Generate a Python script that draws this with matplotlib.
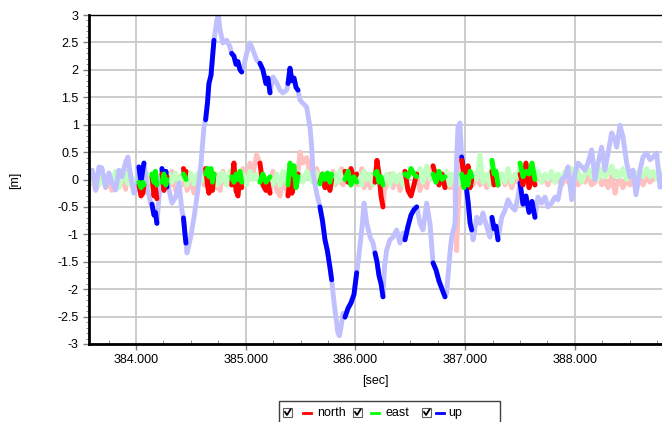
import numpy as np
import matplotlib
matplotlib.use("Agg")
import matplotlib.pyplot as plt
from matplotlib.patches import Rectangle
from matplotlib.lines import Line2D
from matplotlib.ticker import MultipleLocator, FormatStrFormatter

plt.rcParams['font.family'] = ['Liberation Sans', 'DejaVu Sans']

# sample times [sec]
t = [383.572, 383.602, 383.633, 383.663, 383.690, 383.724, 383.754, 383.781, 383.815, 383.845,
     383.872, 383.906, 383.927, 383.952, 383.982, 384.009, 384.027, 384.046, 384.064, 384.073,
     384.100, 384.134, 384.146, 384.164, 384.178, 384.191, 384.210, 384.237, 384.255, 384.273,
     384.283, 384.301, 384.328, 384.362, 384.392, 384.419, 384.433, 384.447, 384.456, 384.465,
     384.499, 384.529, 384.556, 384.590, 384.620, 384.635, 384.652, 384.665, 384.684, 384.697,
     384.711, 384.738, 384.750, 384.766, 384.793, 384.827, 384.857, 384.872, 384.893, 384.912,
     384.930, 384.948, 384.964, 384.975, 385.009, 385.039, 385.067, 385.100, 385.130, 385.157,
     385.185, 385.203, 385.222, 385.249, 385.283, 385.313, 385.340, 385.374, 385.386, 385.404,
     385.422, 385.441, 385.459, 385.477, 385.495, 385.522, 385.556, 385.586, 385.602, 385.613,
     385.647, 385.677, 385.700, 385.723, 385.745, 385.768, 385.784, 385.796, 385.814, 385.841,
     385.855, 385.875, 385.887, 385.905, 385.933, 385.960, 385.987, 386.012, 386.024, 386.058,
     386.079, 386.104, 386.134, 386.161, 386.179, 386.197, 386.215, 386.234, 386.252, 386.265,
     386.285, 386.315, 386.343, 386.376, 386.407, 386.434, 386.452, 386.480, 386.507, 386.534,
     386.559, 386.589, 386.616, 386.650, 386.680, 386.708, 386.735, 386.762, 386.790, 386.817,
     386.832, 386.862, 386.878, 386.908, 386.923, 386.935, 386.953, 386.969, 386.990, 387.009,
     387.027, 387.046, 387.061, 387.073, 387.106, 387.136, 387.163, 387.197, 387.227, 387.245,
     387.264, 387.282, 387.300, 387.334, 387.364, 387.391, 387.425, 387.455, 387.482, 387.501,
     387.528, 387.555, 387.583, 387.610, 387.637, 387.664, 387.698, 387.728, 387.756, 387.789,
     387.820, 387.847, 387.881, 387.911, 387.938, 387.972, 388.002, 388.029, 388.063, 388.093,
     388.120, 388.154, 388.184, 388.212, 388.245, 388.275, 388.303, 388.336, 388.367, 388.382,
     388.412, 388.439, 388.473, 388.503, 388.531, 388.558, 388.594, 388.622, 388.655, 388.686,
     388.713, 388.747, 388.777, 388.805]

north = [-0.10, 0.05, -0.20, -0.05, 0.10, -0.15, 0.00, -0.20, 0.12, -0.10,
         0.05, -0.18, 0.15, -0.05, -0.20, 0.00, -0.10, -0.30, -0.25, -0.10,
         0.10, -0.10, 0.05, -0.30, -0.15, -0.35, 0.00, 0.10, -0.20, -0.05,
         0.05, -0.15, 0.15, -0.20, 0.05, -0.10, 0.20, 0.05, 0.15, -0.20,
         0.00, -0.25, -0.05, 0.20, -0.10, 0.20, -0.10, -0.25, 0.00, -0.20,
         0.10, -0.15, 0.05, -0.20, 0.15, -0.10, 0.00, -0.10, 0.30, -0.20,
         -0.30, 0.05, -0.15, 0.20, -0.05, 0.30, 0.10, 0.45, 0.30, -0.10,
         -0.20, -0.05, -0.25, 0.15, -0.20, -0.30, 0.00, -0.20, -0.30, 0.05,
         -0.25, -0.10, 0.00, 0.10, 0.50, 0.30, 0.40, 0.10, 0.35, 0.00,
         0.20, -0.05, 0.10, -0.15, 0.05, -0.20, 0.00, 0.15, -0.10, 0.10,
         -0.05, 0.20, -0.10, 0.15, -0.05, 0.20, 0.00, 0.10, -0.10, 0.20,
         -0.15, 0.10, -0.15, 0.05, -0.05, 0.35, 0.10, -0.30, -0.50, -0.20,
         -0.10, 0.10, -0.15, 0.05, -0.20, 0.00, 0.15, -0.20, -0.30, -0.10,
         0.10, -0.20, 0.00, -0.15, 0.15, 0.25, 0.05, -0.10, 0.10, -0.15,
         0.00, -0.15, 0.05, -0.20, -1.30, -0.60, 0.00, 0.35, 0.10, -0.10,
         0.25, -0.15, 0.00, -0.10, 0.10, -0.10, 0.05, -0.15, 0.10, 0.15,
         -0.10, 0.05, -0.10, 0.10, -0.10, 0.10, -0.15, 0.05, -0.05, 0.10,
         -0.10, 0.30, -0.15, 0.05, -0.10, 0.10, -0.05, 0.05, -0.10, 0.10,
         -0.05, 0.05, -0.10, 0.05, -0.05, 0.00, 0.10, -0.10, 0.05, -0.05,
         0.05, -0.10, -0.05, 0.10, -0.10, 0.00, -0.15, 0.05, -0.25, -0.10,
         0.00, -0.15, 0.00, -0.10, 0.05, -0.15, 0.00, -0.10, 0.05, -0.05,
         0.00, 0.05, -0.05, 0.00]

east = [0.10, -0.05, 0.08, -0.10, 0.05, -0.12, 0.10, -0.05, 0.15, -0.15,
        0.00, 0.12, -0.08, 0.10, -0.10, 0.05, -0.05, -0.15, -0.05, -0.10,
        0.10, -0.05, 0.10, -0.05, 0.15, -0.10, 0.05, -0.05, 0.10, -0.10,
        0.00, 0.10, -0.05, 0.12, -0.10, 0.05, 0.10, 0.05, 0.00, -0.10,
        0.12, -0.08, 0.10, -0.05, 0.05, 0.10, 0.20, 0.05, 0.20, -0.05,
        0.10, -0.10, 0.10, -0.05, 0.12, -0.10, 0.15, 0.05, -0.05, 0.10,
        0.00, 0.15, -0.05, 0.10, -0.10, 0.15, 0.00, 0.10, -0.05, 0.10,
        -0.05, 0.00, 0.05, -0.10, 0.10, -0.10, 0.15, -0.05, -0.10, 0.30,
        0.10, 0.25, -0.15, 0.05, 0.10, -0.05, 0.15, 0.00, 0.10, -0.05,
        0.12, -0.08, 0.10, 0.00, 0.12, -0.05, 0.10, -0.10, 0.10, -0.05,
        0.15, 0.00, 0.10, 0.00, 0.15, -0.10, 0.05, -0.05, 0.10, -0.10,
        0.15, 0.00, 0.10, -0.10, 0.10, 0.15, -0.05, 0.05, -0.10, 0.00,
        0.10, -0.10, 0.12, -0.05, 0.10, -0.10, 0.10, 0.05, 0.20, 0.10,
        0.05, 0.20, -0.05, 0.25, 0.00, 0.10, -0.05, 0.15, 0.00, 0.05,
        0.15, -0.10, 0.10, 0.00, -0.10, 0.10, -0.05, 0.10, -0.15, 0.05,
        -0.10, 0.15, 0.05, 0.10, 0.00, 0.45, -0.05, 0.10, -0.10, 0.35,
        0.10, 0.15, -0.10, 0.10, -0.05, 0.20, -0.05, 0.10, 0.05, 0.30,
        0.05, 0.15, 0.10, 0.30, 0.00, 0.15, -0.05, 0.10, 0.00, 0.15,
        -0.05, 0.10, 0.00, 0.15, 0.05, 0.20, 0.00, 0.15, -0.05, 0.10,
        0.20, 0.05, 0.15, 0.00, 0.20, 0.05, 0.10, 0.25, 0.05, 0.15,
        0.05, 0.20, 0.00, 0.15, 0.05, 0.10, 0.15, 0.05, 0.20, 0.05,
        0.15, 0.00, 0.15, 0.10]

up = [0.00, 0.17, -0.19, 0.23, 0.21, -0.14, 0.12, -0.06, -0.19, 0.17,
      0.05, 0.32, 0.41, 0.05, -0.25, -0.14, 0.23, -0.06, 0.20, 0.30,
      -0.14, -0.43, -0.45, -0.65, -0.60, -0.80, -0.32, 0.20, -0.10, 0.15,
      -0.14, -0.19, -0.43, -0.32, -0.06, -0.56, -0.70, -1.00, -1.16, -1.34,
      -1.05, -0.69, -0.32, 0.23, 0.96, 1.09, 1.40, 1.75, 1.90, 2.20,
      2.54, 2.91, 3.00, 2.73, 2.49, 2.54, 2.42, 2.30, 2.25, 2.10,
      2.15, 2.00, 1.96, 2.00, 2.30, 2.49, 2.36, 2.18, 2.12, 2.00,
      1.75, 1.85, 1.58, 1.87, 1.76, 1.63, 1.58, 1.63, 1.75, 2.03,
      1.80, 1.85, 1.68, 1.63, 1.45, 1.39, 1.32, 0.96, 0.59, 0.12,
      -0.25, -0.50, -0.75, -1.10, -1.30, -1.60, -1.83, -2.07, -2.38, -2.80,
      -2.85, -2.62, -2.44, -2.51, -2.35, -2.25, -2.10, -1.70, -1.52, -0.92,
      -0.43, -0.80, -1.05, -1.16, -1.34, -1.50, -1.75, -1.90, -2.14, -1.60,
      -1.29, -1.10, -1.05, -0.92, -1.16, -0.98, -1.10, -0.85, -0.65, -0.55,
      -0.50, -0.80, -0.92, -0.43, -0.80, -1.52, -1.65, -1.85, -2.00, -2.14,
      -2.07, -1.34, -1.05, -0.80, 0.36, 0.96, 1.03, 0.41, 0.10, -0.10,
      -0.40, -0.80, -0.92, -1.10, -0.69, -0.80, -0.61, -0.86, -1.05, -0.69,
      -0.90, -0.85, -1.10, -0.69, -0.56, -0.37, -0.50, -0.56, -0.32, -0.06,
      -0.45, -0.30, -0.60, -0.40, -0.69, -0.32, -0.43, -0.32, -0.50, -0.43,
      -0.32, -0.37, 0.00, 0.05, 0.23, -0.37, 0.12, 0.30, 0.23, 0.17,
      0.30, 0.54, 0.00, 0.30, 0.59, 0.17, 0.48, 0.85, 0.72, 0.59,
      0.99, 0.78, 0.30, 0.05, 0.17, -0.28, 0.17, 0.41, 0.48, 0.36,
      0.41, 0.48, -0.14, 0.10]

# intervals with a fixed solution, drawn in full colour
fixed = [(384.025, 384.075), (384.14, 384.195), (384.23, 384.285), (384.43, 384.46),
         (384.63, 384.715), (384.87, 384.97), (385.125, 385.225), (385.38, 385.48),
         (385.675, 385.79), (385.90, 386.015), (386.175, 386.255), (386.45, 386.56),
         (386.705, 386.82), (386.965, 387.065), (387.24, 387.305), (387.50, 387.64)]

t = np.array(t)
series = {'north': np.array(north), 'east': np.array(east), 'up': np.array(up)}
light = {'north': '#ffc0c0', 'east': '#c0ffc0', 'up': '#c0c0ff'}
dark = {'north': '#ff0000', 'east': '#00ff00', 'up': '#0000ff'}

in_fix = np.zeros(len(t), dtype=bool)
for a, b in fixed:
    in_fix |= (t >= a) & (t <= b)

fig = plt.figure(figsize=(6.62, 4.22), dpi=100)
ax = fig.add_axes([89/662, 1-344/422, 1-89/662, (344-15)/422])

for k in ['north', 'east', 'up']:
    ax.plot(t, series[k], color=light[k], lw=3.5, solid_capstyle='round', zorder=2)
for k in ['up', 'north', 'east']:
    y = np.where(in_fix, series[k], np.nan)
    ax.plot(t, y, color=dark[k], lw=3.5, solid_capstyle='round', zorder=3)

ax.set_xlim(383.572, 388.795)
ax.set_ylim(-3, 3)
ax.xaxis.set_major_locator(MultipleLocator(1))
ax.xaxis.set_minor_locator(MultipleLocator(0.25))
ax.xaxis.set_major_formatter(FormatStrFormatter('%.3f'))
ax.yaxis.set_major_locator(MultipleLocator(0.5))
ax.yaxis.set_minor_locator(MultipleLocator(0.1))
ax.yaxis.set_major_formatter(FormatStrFormatter('%g'))
ax.tick_params(axis='both', which='major', labelsize=9, length=4, width=1, color='#808080')
ax.tick_params(axis='x', which='minor', direction='in', length=3, color='#808080')
ax.tick_params(axis='y', which='minor', direction='out', length=2, color='#808080')
ax.grid(True, which='major', color='#c8c8c8', lw=1.3)
ax.set_axisbelow(True)

for s in ['left', 'bottom']:
    ax.spines[s].set_linewidth(2)
    ax.spines[s].set_color('black')
ax.spines['top'].set_linewidth(1)
ax.spines['right'].set_visible(False)

ax.set_xlabel('[sec]', fontsize=9, labelpad=6)
fig.text(15/662, 1-180/422, '[m]', rotation=90, fontsize=9, ha='center', va='center')


# legend with check boxes at the bottom
def fx(px):
    return px / 662


def fy(py):
    return 1 - py / 422


fig.add_artist(Rectangle((fx(279), fy(424)), fx(221), 23/422, transform=fig.transFigure,
                         facecolor='white', edgecolor='#404040', lw=1))
items = [('north', 283, 303, 317), ('east', 353, 371, 385), ('up', 422, 436, 448)]
for name, bx, lx, tx in items:
    fig.add_artist(Rectangle((fx(bx), fy(417)), fx(9), 9/422, transform=fig.transFigure,
                             facecolor='white', edgecolor='#606060', lw=0.8))
    fig.add_artist(Line2D([fx(bx+2), fx(bx+4), fx(bx+7.5)], [fy(412), fy(415), fy(409.5)],
                          transform=fig.transFigure, color='black', lw=1.3))
    fig.add_artist(Line2D([fx(lx), fx(lx+8)], [fy(413), fy(413)], transform=fig.transFigure,
                          color=dark[name], lw=2))
    fig.text(fx(tx), fy(413), name, fontsize=9, ha='left', va='center')

fig.savefig('out.png', dpi=100)
